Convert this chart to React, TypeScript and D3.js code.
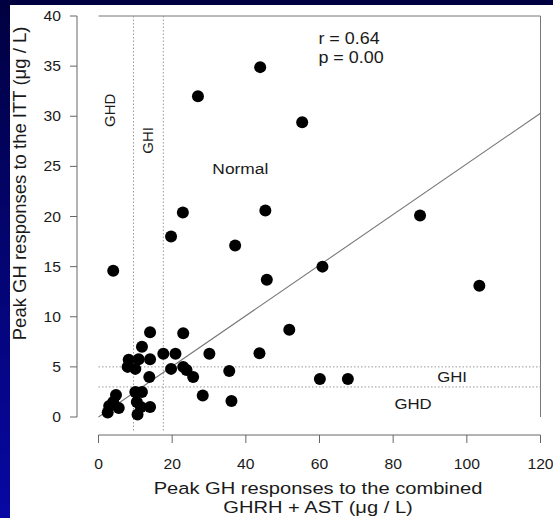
import React from 'react';
import * as d3 from 'd3';

// peak GH to GHRH + AST (x) vs peak GH to ITT (y), µg/L
const combinedPeak = [
  43.9, 27.0, 55.3, 22.9, 45.3, 19.7, 37.1, 87.3, 60.8, 45.7, 103.4, 4.0,
  51.8, 14.0, 23.0, 11.8, 17.6, 20.9, 30.1, 43.7, 8.2, 10.9, 14.0, 7.9,
  10.0, 19.7, 23.0, 23.9, 25.7, 13.8, 35.5, 60.1, 67.7, 28.3, 36.1, 4.75,
  10.0, 11.8, 2.9, 5.5, 2.5, 4.0, 10.4, 10.6, 14.0, 11.5,
];
const ittPeak = [
  34.9, 32.0, 29.4, 20.4, 20.6, 18.0, 17.1, 20.1, 15.0, 13.7, 13.1, 14.6,
  8.7, 8.45, 8.35, 7.0, 6.3, 6.3, 6.3, 6.35, 5.7, 5.75, 5.75, 5.0,
  4.8, 4.8, 5.0, 4.7, 4.0, 4.0, 4.6, 3.8, 3.8, 2.15, 1.6, 2.2,
  2.5, 2.5, 1.1, 0.9, 0.45, 1.5, 1.5, 0.25, 1.0, 1.0,
];

const xTicks = [0, 20, 40, 60, 80, 100, 120];
const yTicks = [0, 5, 10, 15, 20, 25, 30, 35, 40];

const xCutoffs = [9.5, 17.6];
const yCutoffs = [5, 3];

const fitX = [0, 120];
const fitY = [0, 30.3];

const W = 553;
const H = 518;
const SX = 1.12; // the slide image is a little stretched sideways
const FONT = 'Liberation Sans, Arial, Helvetica, sans-serif';

function Label({ x, y, size, anchor = 'middle', sx = SX, children }: any) {
  return (
    <text
      transform={`translate(${x},${y}) scale(${sx},1)`}
      fontSize={size}
      textAnchor={anchor}
      fill="#1a1a1a"
      fontFamily={FONT}
    >
      {children}
    </text>
  );
}

export default function App() {
  const x = d3.scaleLinear().domain([0, 120]).range([98.5, 540.5]);
  const y = d3.scaleLinear().domain([0, 40]).range([417, 16]);
  const axisY = 435;
  const yAxisX = 77;

  const points = combinedPeak.map((v, i) => [v, ittPeak[i]]);
  const fit = d3
    .line<number>()
    .x((v) => x(v))
    .y((_, i) => y(fitY[i]));

  return (
    <svg width={W} height={H} style={{ position: 'absolute', left: 0, top: 0 }}>
      <defs>
        <linearGradient id="bg" x1="0" y1="0" x2="0" y2="1">
          <stop offset="0%" stopColor="#000040" />
          <stop offset="100%" stopColor="#0808a4" />
        </linearGradient>
      </defs>
      <rect width={W} height={H} fill="url(#bg)" />
      <rect x={10} y={5} width={W - 10} height={H - 5} fill="#fff" />

      {/* box: top and right only */}
      <path
        d={`M${x(0)},${y(40)}H${x(120)}V${y(0)}`}
        fill="none"
        stroke="#777"
        strokeWidth={1}
      />

      {/* cutoff lines */}
      {xCutoffs.map((c) => (
        <line
          key={'vx' + c}
          x1={x(c)}
          x2={x(c)}
          y1={y(40)}
          y2={y(-1.5)}
          stroke="#999"
          strokeDasharray="1.5,2"
        />
      ))}
      {yCutoffs.map((c) => (
        <line
          key={'hy' + c}
          x1={x(0)}
          x2={x(120)}
          y1={y(c)}
          y2={y(c)}
          stroke="#999"
          strokeDasharray="1.5,2"
        />
      ))}

      {/* regression line */}
      <path d={fit(fitX) || ''} fill="none" stroke="#777" strokeWidth={1.1} />

      {points.map(([a, b], i) => (
        <circle key={i} cx={x(a)} cy={y(b)} r={6} fill="#000" />
      ))}

      {/* y axis */}
      <line x1={yAxisX} x2={yAxisX} y1={y(0)} y2={y(40)} stroke="#666" />
      {yTicks.map((t) => (
        <g key={'yt' + t}>
          <line x1={yAxisX - 7} x2={yAxisX} y1={y(t)} y2={y(t)} stroke="#666" />
          <Label x={61} y={y(t) + 5} size={14} anchor="end">
            {t}
          </Label>
        </g>
      ))}

      {/* x axis */}
      <line x1={x(0)} x2={x(120)} y1={axisY} y2={axisY} stroke="#666" />
      {xTicks.map((t) => (
        <g key={'xt' + t}>
          <line x1={x(t)} x2={x(t)} y1={axisY} y2={axisY + 8} stroke="#666" />
          <Label x={x(t)} y={469} size={14}>
            {t}
          </Label>
        </g>
      ))}

      <Label x={318} y={494} size={16.5} sx={1.22}>
        Peak GH responses to the combined
      </Label>
      <Label x={318} y={513} size={16.5} sx={1.22}>
        GHRH + AST (μg / L)
      </Label>

      <text
        transform={`translate(26,${y(23.3)}) rotate(-90)`}
        fontSize={18.5}
        textAnchor="middle"
        fill="#1a1a1a"
        fontFamily={FONT}
      >
        Peak GH responses to the ITT (μg / L)
      </text>

      {/* annotations */}
      <Label x={x(59.7)} y={y(37.2)} size={16} anchor="start">
        r = 0.64
      </Label>
      <Label x={x(59.7)} y={y(35.3)} size={16} anchor="start">
        p = 0.00
      </Label>
      <Label x={x(38.5)} y={y(24.85) + 6} size={15.5}>
        Normal
      </Label>
      <Label x={x(96)} y={y(4) + 5} size={15}>
        GHI
      </Label>
      <Label x={x(85.4)} y={y(1.3) + 5} size={15}>
        GHD
      </Label>
      <text
        transform={`translate(${x(3.1) + 5},${y(30.6)}) rotate(-90)`}
        fontSize={15}
        textAnchor="middle"
        fill="#1a1a1a"
        fontFamily={FONT}
      >
        GHD
      </text>
      <text
        transform={`translate(${x(13.4) + 5},${y(27.6)}) rotate(-90)`}
        fontSize={15}
        textAnchor="middle"
        fill="#1a1a1a"
        fontFamily={FONT}
      >
        GHI
      </text>
    </svg>
  );
}
